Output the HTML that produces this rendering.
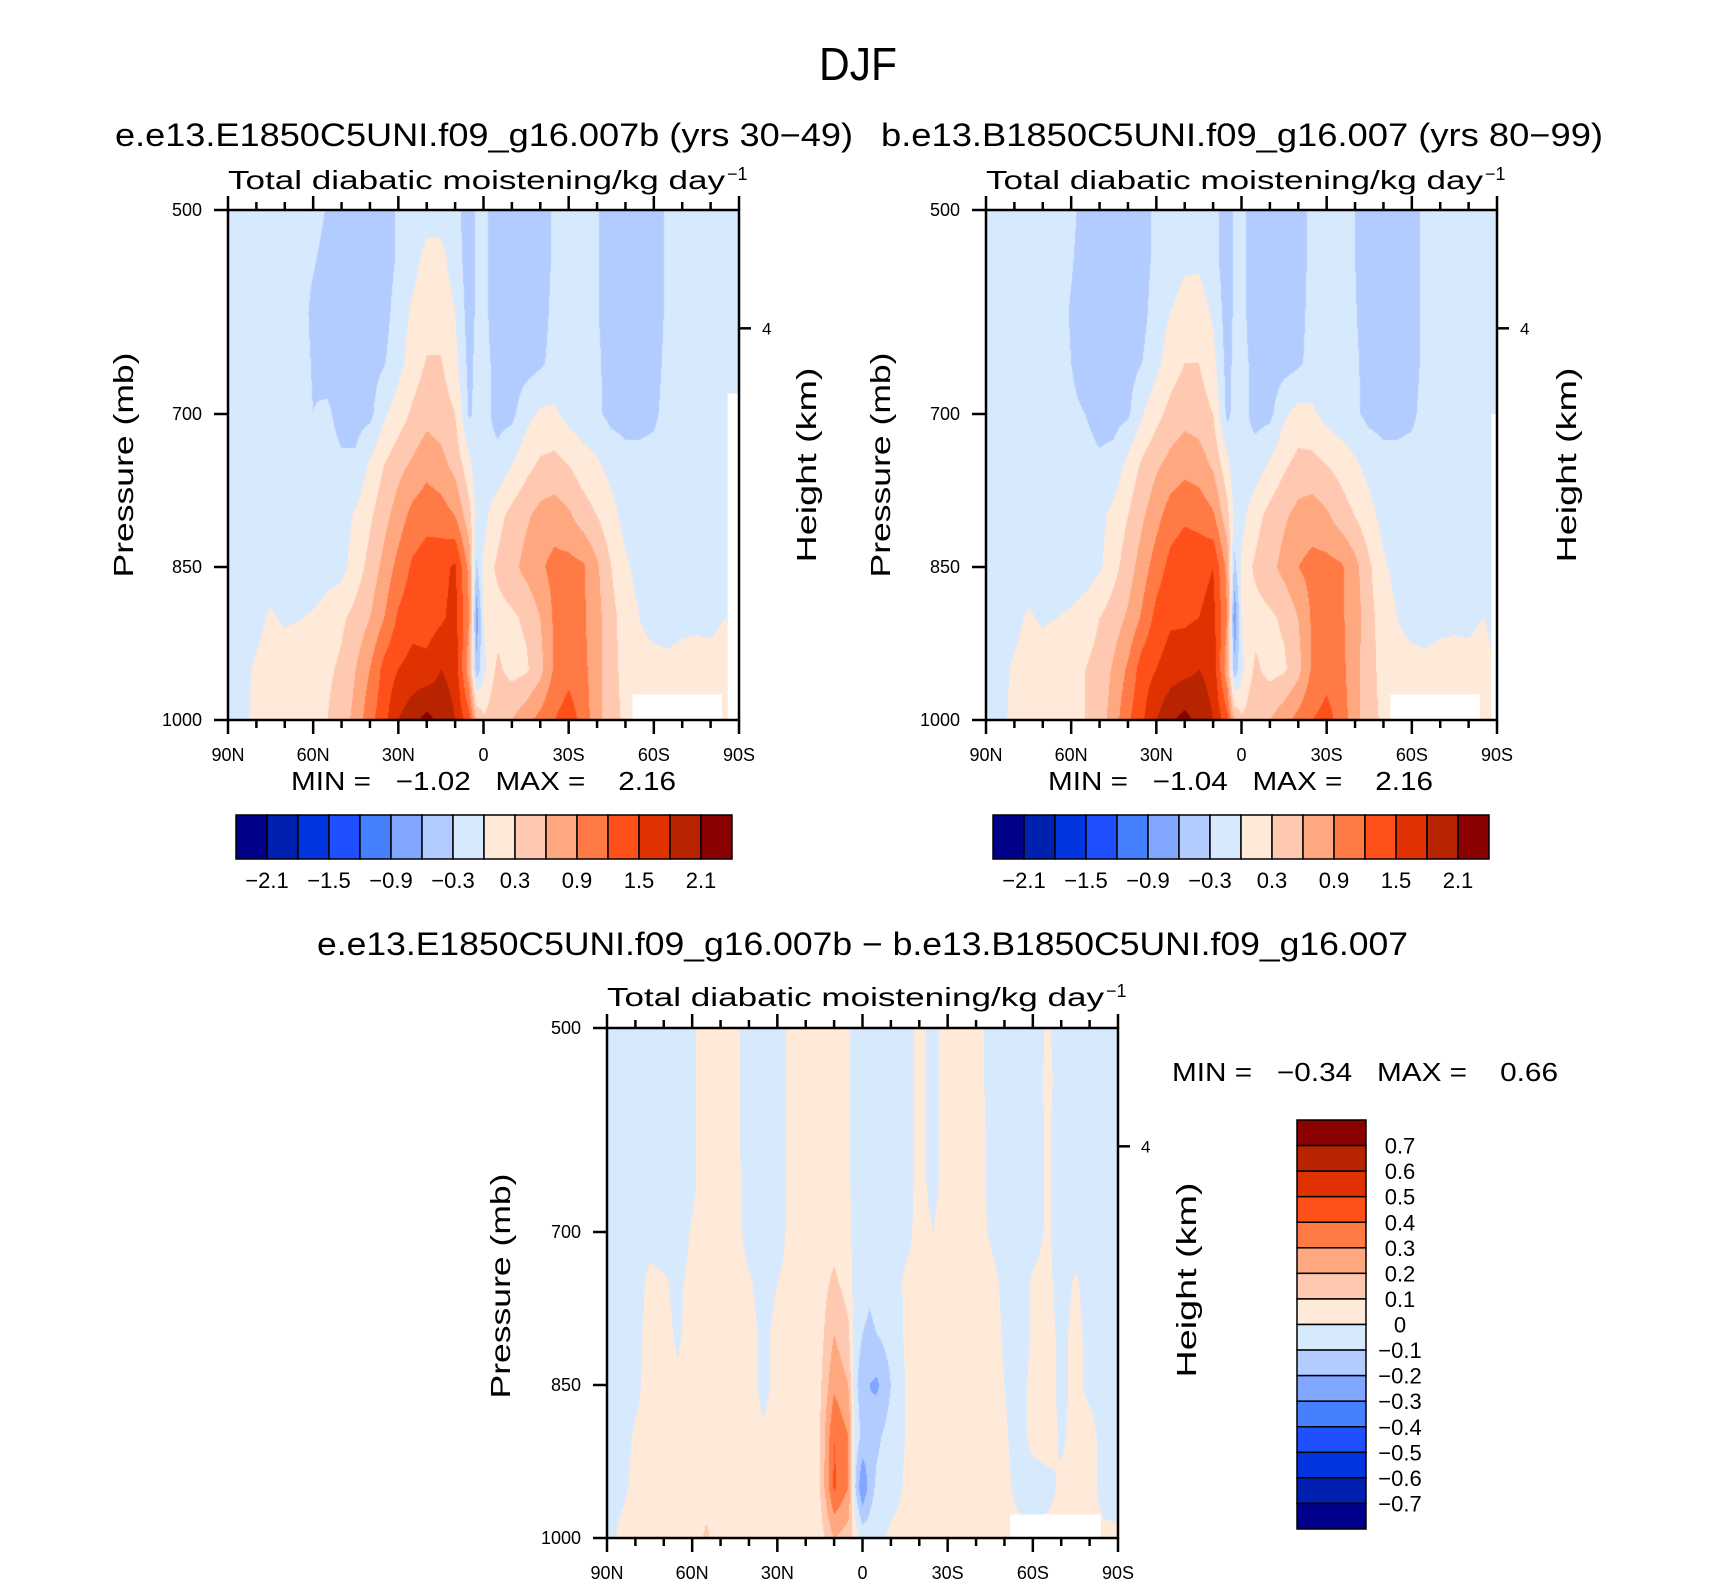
<!DOCTYPE html>
<html><head><meta charset="utf-8"><title>DJF Total diabatic moistening</title>
<style>
html,body{margin:0;padding:0;background:#fff;}
#page{position:relative;width:1710px;height:1581px;overflow:hidden;background:#fff;font-family:"Liberation Sans",sans-serif;}
canvas{position:absolute;}
#overlay{position:absolute;left:0;top:0;}
text{font-family:"Liberation Sans",sans-serif;fill:#000;}
</style></head>
<body>
<div id="page">
<canvas id="cv-tl"></canvas>
<canvas id="cv-tr"></canvas>
<canvas id="cv-bd"></canvas>
<svg id="overlay" width="1710" height="1581" xmlns="http://www.w3.org/2000/svg">
<g id="masks"></g>
<g id="axes"></g>
<text x="858" y="80" font-size="46" text-anchor="middle" textLength="78" lengthAdjust="spacingAndGlyphs">DJF</text>
<text x="115" y="146" font-size="32" textLength="738" lengthAdjust="spacingAndGlyphs">e.e13.E1850C5UNI.f09_g16.007b (yrs 30−49)</text>
<text x="881" y="146" font-size="32" textLength="722" lengthAdjust="spacingAndGlyphs">b.e13.B1850C5UNI.f09_g16.007 (yrs 80−99)</text>
<text x="228" y="189" font-size="26" textLength="497" lengthAdjust="spacingAndGlyphs">Total diabatic moistening/kg day</text>
<text x="727" y="180" font-size="18">−1</text>
<text x="986" y="189" font-size="26" textLength="497" lengthAdjust="spacingAndGlyphs">Total diabatic moistening/kg day</text>
<text x="1485" y="180" font-size="18">−1</text>
<text x="317" y="955" font-size="32" textLength="1091" lengthAdjust="spacingAndGlyphs">e.e13.E1850C5UNI.f09_g16.007b − b.e13.B1850C5UNI.f09_g16.007</text>
<text x="607" y="1006" font-size="26" textLength="497" lengthAdjust="spacingAndGlyphs">Total diabatic moistening/kg day</text>
<text x="1106" y="997" font-size="18">−1</text>
<text x="291" y="790" font-size="26" textLength="385" lengthAdjust="spacingAndGlyphs" xml:space="preserve">MIN =   −1.02   MAX =    2.16</text>
<text x="1048" y="790" font-size="26" textLength="385" lengthAdjust="spacingAndGlyphs" xml:space="preserve">MIN =   −1.04   MAX =    2.16</text>
<text x="1172" y="1081" font-size="26" textLength="386" lengthAdjust="spacingAndGlyphs" xml:space="preserve">MIN =   −0.34   MAX =    0.66</text>
<text transform="translate(133,465) rotate(-90)" font-size="28" text-anchor="middle" textLength="225" lengthAdjust="spacingAndGlyphs">Pressure (mb)</text>
<text transform="translate(816,465) rotate(-90)" font-size="28" text-anchor="middle" textLength="195" lengthAdjust="spacingAndGlyphs">Height (km)</text>
<text transform="translate(890,465) rotate(-90)" font-size="28" text-anchor="middle" textLength="225" lengthAdjust="spacingAndGlyphs">Pressure (mb)</text>
<text transform="translate(1576,465) rotate(-90)" font-size="28" text-anchor="middle" textLength="195" lengthAdjust="spacingAndGlyphs">Height (km)</text>
<text transform="translate(510,1286) rotate(-90)" font-size="28" text-anchor="middle" textLength="225" lengthAdjust="spacingAndGlyphs">Pressure (mb)</text>
<text transform="translate(1196,1280) rotate(-90)" font-size="28" text-anchor="middle" textLength="195" lengthAdjust="spacingAndGlyphs">Height (km)</text>
<g id="colorbars"></g>
</svg>
</div>
<script>
// ---- data ----
const lats = [90,85,80,75,70,65,60,55,50,45,40,35,30,25,20,15,10,5,2.5,0,-2.5,-5,-10,-15,-20,-25,-30,-35,-40,-45,-50,-55,-60,-65,-70,-75,-80,-85,-90];
const levels = [500,550,600,650,700,750,800,850,900,950,1000];
const colors16 = ['#00008b','#0021b0','#0035e0','#1e50ff','#4580ff','#80a6ff','#b3ccff','#d7e9fc','#ffe9d8','#ffc9b1','#ffa880','#ff7a45','#ff5019','#e03200','#b82300','#8b0000'];
const bndsAbs = [-2.1,-1.8,-1.5,-1.2,-0.9,-0.6,-0.3,0,0.3,0.6,0.9,1.2,1.5,1.8,2.1];
const bndsDiff = [-0.7,-0.6,-0.5,-0.4,-0.3,-0.2,-0.1,0,0.1,0.2,0.3,0.4,0.5,0.6,0.7];
const absTickLabels = ['−2.1','−1.5','−0.9','−0.3','0.3','0.9','1.5','2.1'];
const diffTickLabels = ['−0.7','−0.6','−0.5','−0.4','−0.3','−0.2','−0.1','0','0.1','0.2','0.3','0.4','0.5','0.6','0.7'];
const latTicks = [90,60,30,0,-30,-60,-90];
const latTickLabels = ['90N','60N','30N','0','30S','60S','90S'];
const presTicks = [500,700,850,1000];
const heightTicks = [4];
const heightTickPres = [616];

const tlField = [
[-0.2,-0.2,-0.2,-0.2,-0.2,-0.2,-0.2,-0.32,-0.45,-0.45,-0.45,-0.45,-0.25,-0.2,-0.12,-0.12,-0.2,-0.45,-0.25,-0.2,-0.35,-0.45,-0.45,-0.45,-0.45,-0.25,-0.2,-0.2,-0.28,-0.45,-0.45,-0.45,-0.45,-0.25,-0.2,-0.2,-0.2,-0.2,-0.2],
[-0.2,-0.2,-0.2,-0.2,-0.2,-0.2,-0.28,-0.38,-0.45,-0.45,-0.45,-0.45,-0.25,-0.1,0.1,0.1,-0.15,-0.45,-0.25,-0.2,-0.35,-0.45,-0.45,-0.45,-0.45,-0.25,-0.2,-0.2,-0.28,-0.45,-0.45,-0.45,-0.45,-0.25,-0.2,-0.2,-0.2,-0.2,-0.2],
[-0.2,-0.2,-0.2,-0.2,-0.2,-0.2,-0.35,-0.38,-0.45,-0.45,-0.45,-0.42,-0.15,0.05,0.2,0.2,0.0,-0.45,-0.25,-0.2,-0.35,-0.45,-0.45,-0.45,-0.42,-0.22,-0.2,-0.2,-0.28,-0.45,-0.45,-0.45,-0.42,-0.25,-0.2,-0.2,-0.2,-0.2,-0.2],
[-0.2,-0.2,-0.2,-0.2,-0.2,-0.2,-0.32,-0.42,-0.45,-0.45,-0.42,-0.32,-0.1,0.15,0.32,0.32,0.1,-0.4,-0.22,-0.2,-0.3,-0.45,-0.45,-0.42,-0.35,-0.2,-0.2,-0.2,-0.25,-0.42,-0.42,-0.42,-0.4,-0.22,-0.2,-0.2,-0.2,-0.2,-0.2],
[-0.2,-0.2,-0.2,-0.2,-0.2,-0.2,-0.3,-0.25,-0.4,-0.4,-0.38,-0.05,0.15,0.35,0.5,0.45,0.3,-0.35,-0.2,-0.2,-0.3,-0.4,-0.38,-0.1,0.05,0.05,-0.1,-0.2,-0.25,-0.38,-0.4,-0.4,-0.35,-0.2,-0.2,-0.2,-0.2,-0.2,-0.2],
[-0.2,-0.2,-0.2,-0.2,-0.2,-0.2,-0.25,-0.2,-0.25,-0.25,0.05,0.3,0.5,0.65,0.8,0.7,0.5,0.1,-0.22,-0.15,-0.2,-0.2,0.0,0.2,0.35,0.4,0.3,0.15,0.05,-0.1,-0.2,-0.2,-0.2,-0.2,-0.2,-0.2,-0.2,-0.2,-0.2],
[-0.2,-0.2,-0.2,-0.2,-0.2,-0.2,-0.25,-0.2,-0.15,0.05,0.25,0.5,0.75,1.0,1.1,1.05,0.9,0.4,-0.05,-0.1,0.05,0.2,0.4,0.55,0.7,0.75,0.65,0.45,0.3,0.1,-0.1,-0.2,-0.2,-0.2,-0.2,-0.2,-0.2,-0.2,-0.2],
[-0.2,-0.2,-0.2,-0.2,-0.2,-0.2,-0.25,-0.15,-0.1,0.15,0.4,0.7,1.0,1.25,1.35,1.4,1.55,0.8,-0.35,0.05,0.25,0.35,0.5,0.7,0.85,1.0,1.0,0.95,0.65,0.3,0.05,-0.1,-0.2,-0.2,-0.15,-0.2,-0.2,-0.15,-0.2],
[-0.2,-0.15,-0.1,0.05,-0.05,-0.02,0.05,0.15,0.25,0.4,0.6,0.9,1.25,1.4,1.35,1.45,1.6,0.9,-0.8,0.0,0.2,0.2,0.25,0.35,0.6,0.95,1.0,0.95,0.7,0.4,0.15,0.0,-0.1,-0.15,-0.1,-0.05,-0.1,0.0,-0.1],
[-0.2,-0.1,0.05,0.15,0.2,0.3,0.3,0.25,0.35,0.6,0.9,1.3,1.5,1.6,1.6,1.8,1.7,0.7,-0.5,-0.1,0.2,0.35,0.2,0.25,0.5,0.95,1.1,1.0,0.7,0.4,0.2,0.1,0.1,0.1,0.15,0.1,0.15,0.2,-0.1],
[-0.2,-0.1,0.1,0.15,0.2,0.3,0.25,0.3,0.45,0.7,1.1,1.4,1.8,2.0,2.2,2.0,1.8,1.3,0.6,0.35,0.4,0.5,0.6,0.8,1.0,1.2,1.35,1.1,0.7,0.4,0.25,0.1,0.1,0.1,0.1,0.1,0.1,0.1,0.1]
];
const trField = [
[-0.2,-0.2,-0.2,-0.2,-0.2,-0.2,-0.25,-0.38,-0.45,-0.45,-0.45,-0.42,-0.22,-0.2,-0.15,-0.15,-0.2,-0.45,-0.25,-0.2,-0.35,-0.45,-0.45,-0.45,-0.42,-0.22,-0.2,-0.2,-0.3,-0.45,-0.45,-0.45,-0.42,-0.22,-0.2,-0.2,-0.2,-0.2,-0.2],
[-0.2,-0.2,-0.2,-0.2,-0.2,-0.2,-0.28,-0.4,-0.45,-0.45,-0.45,-0.42,-0.22,-0.15,-0.05,-0.05,-0.2,-0.45,-0.25,-0.2,-0.35,-0.45,-0.45,-0.45,-0.42,-0.22,-0.2,-0.2,-0.3,-0.45,-0.45,-0.45,-0.42,-0.22,-0.2,-0.2,-0.2,-0.2,-0.2],
[-0.2,-0.2,-0.2,-0.2,-0.2,-0.2,-0.32,-0.42,-0.45,-0.45,-0.45,-0.4,-0.15,0.0,0.12,0.15,-0.05,-0.45,-0.25,-0.2,-0.35,-0.45,-0.45,-0.45,-0.4,-0.2,-0.2,-0.2,-0.28,-0.45,-0.45,-0.45,-0.4,-0.22,-0.2,-0.2,-0.2,-0.2,-0.2],
[-0.2,-0.2,-0.2,-0.2,-0.2,-0.2,-0.3,-0.42,-0.45,-0.45,-0.42,-0.3,-0.08,0.15,0.3,0.3,0.1,-0.42,-0.22,-0.2,-0.3,-0.45,-0.45,-0.42,-0.35,-0.2,-0.2,-0.2,-0.25,-0.42,-0.42,-0.42,-0.4,-0.22,-0.2,-0.2,-0.2,-0.2,-0.2],
[-0.2,-0.2,-0.2,-0.2,-0.2,-0.2,-0.25,-0.3,-0.4,-0.4,-0.35,-0.02,0.2,0.4,0.5,0.45,0.3,-0.38,-0.2,-0.2,-0.3,-0.4,-0.38,-0.05,0.1,0.05,-0.1,-0.2,-0.25,-0.38,-0.4,-0.4,-0.35,-0.2,-0.2,-0.2,-0.2,-0.2,-0.2],
[-0.2,-0.2,-0.2,-0.2,-0.2,-0.2,-0.2,-0.2,-0.25,-0.2,0.1,0.35,0.55,0.7,0.8,0.75,0.55,0.1,-0.22,-0.15,-0.2,-0.15,0.05,0.25,0.4,0.4,0.3,0.2,0.05,-0.1,-0.2,-0.2,-0.2,-0.2,-0.2,-0.2,-0.2,-0.2,-0.2],
[-0.2,-0.2,-0.2,-0.2,-0.2,-0.2,-0.2,-0.2,-0.1,0.1,0.3,0.55,0.8,1.05,1.15,1.1,0.95,0.4,-0.05,-0.1,0.05,0.2,0.4,0.55,0.7,0.75,0.65,0.45,0.3,0.1,-0.1,-0.2,-0.2,-0.2,-0.2,-0.2,-0.2,-0.2,-0.2],
[-0.2,-0.2,-0.2,-0.2,-0.2,-0.2,-0.2,-0.15,-0.05,0.2,0.45,0.75,1.05,1.3,1.4,1.4,1.5,0.8,-0.4,0.05,0.25,0.35,0.5,0.7,0.9,1.0,1.0,0.95,0.7,0.35,0.05,-0.1,-0.2,-0.2,-0.15,-0.2,-0.2,-0.15,-0.2],
[-0.2,-0.15,-0.1,0.05,-0.05,0.0,0.05,0.15,0.3,0.45,0.65,0.95,1.3,1.45,1.45,1.5,1.6,0.9,-0.85,0.0,0.2,0.2,0.25,0.35,0.6,0.95,1.0,0.95,0.75,0.4,0.15,0.0,-0.1,-0.15,-0.1,-0.05,-0.1,0.0,-0.1],
[-0.2,-0.1,0.05,0.15,0.2,0.3,0.3,0.3,0.4,0.65,0.95,1.35,1.5,1.65,1.7,1.8,1.7,0.7,-0.5,-0.1,0.2,0.35,0.2,0.25,0.5,0.95,1.1,1.0,0.7,0.4,0.2,0.1,0.1,0.1,0.15,0.1,0.15,0.2,-0.1],
[-0.2,-0.1,0.1,0.15,0.2,0.3,0.25,0.3,0.45,0.75,1.15,1.45,1.8,2.05,2.2,2.0,1.8,1.3,0.6,0.35,0.4,0.5,0.6,0.8,1.0,1.2,1.3,1.1,0.7,0.4,0.25,0.1,0.1,0.1,0.1,0.1,0.1,0.1,0.1]
];
const bdField = [
[-0.05,-0.05,-0.05,-0.05,-0.05,-0.05,-0.02,0.05,0.05,0.03,-0.05,-0.05,-0.05,0.03,0.05,0.05,0.05,0.02,-0.05,-0.05,-0.05,-0.05,-0.05,-0.03,0.02,-0.02,0.03,0.05,0.04,-0.03,-0.05,-0.05,-0.05,0.01,-0.03,-0.05,-0.05,-0.05,-0.05],
[-0.05,-0.05,-0.05,-0.05,-0.05,-0.05,-0.02,0.05,0.05,0.03,-0.05,-0.05,-0.05,0.03,0.05,0.05,0.05,0.02,-0.05,-0.05,-0.05,-0.05,-0.05,-0.03,0.02,-0.02,0.03,0.05,0.04,-0.03,-0.05,-0.05,-0.05,0.02,-0.03,-0.05,-0.05,-0.05,-0.05],
[-0.05,-0.05,-0.05,-0.05,-0.05,-0.05,-0.02,0.05,0.05,0.03,-0.05,-0.05,-0.05,0.03,0.05,0.05,0.05,0.02,-0.05,-0.05,-0.05,-0.05,-0.05,-0.03,0.02,-0.02,0.03,0.05,0.04,-0.02,-0.05,-0.05,-0.04,0.01,-0.03,-0.05,-0.05,-0.05,-0.05],
[-0.05,-0.05,-0.05,-0.05,-0.05,-0.05,-0.02,0.05,0.05,0.03,-0.04,-0.05,-0.05,0.03,0.05,0.05,0.05,0.02,-0.05,-0.05,-0.05,-0.05,-0.05,-0.03,0.02,-0.02,0.03,0.05,0.04,-0.02,-0.05,-0.05,-0.04,0.01,-0.03,-0.05,-0.05,-0.05,-0.05],
[-0.05,-0.05,-0.05,-0.03,-0.04,-0.05,0.01,0.05,0.05,0.03,-0.03,-0.05,-0.04,0.03,0.05,0.05,0.06,0.03,-0.05,-0.05,-0.06,-0.05,-0.05,-0.02,0.02,0.0,0.04,0.05,0.04,-0.01,-0.05,-0.05,-0.03,0.01,-0.03,-0.04,-0.05,-0.05,-0.05],
[-0.05,-0.05,-0.04,0.02,0.01,-0.02,0.03,0.05,0.05,0.04,0.01,-0.03,0.0,0.03,0.05,0.06,0.12,0.06,-0.05,-0.06,-0.08,-0.06,-0.04,0.01,0.02,0.02,0.04,0.05,0.05,0.03,-0.02,-0.04,0.01,0.02,-0.03,0.01,-0.03,-0.05,-0.05],
[-0.05,-0.04,-0.03,0.03,0.02,-0.01,0.03,0.05,0.05,0.05,0.03,-0.02,0.02,0.04,0.05,0.06,0.2,0.12,-0.06,-0.1,-0.12,-0.1,-0.06,0.01,0.03,0.03,0.05,0.05,0.05,0.04,-0.01,-0.04,0.01,0.03,-0.02,0.02,-0.02,-0.04,-0.05],
[-0.05,-0.04,-0.02,0.03,0.02,0.01,0.04,0.05,0.05,0.04,0.03,-0.02,0.02,0.04,0.05,0.08,0.28,0.2,-0.08,-0.15,-0.2,-0.22,-0.1,0.0,0.03,0.04,0.05,0.05,0.05,0.04,0.0,-0.03,0.02,0.03,-0.02,0.02,-0.02,-0.04,-0.05],
[-0.05,-0.03,0.01,0.03,0.03,0.02,0.04,0.05,0.05,0.04,0.03,0.01,0.03,0.04,0.05,0.1,0.4,0.3,-0.05,-0.12,-0.18,-0.12,-0.06,0.0,0.03,0.04,0.05,0.05,0.05,0.04,0.01,-0.03,0.02,0.03,-0.01,0.02,0.03,-0.03,-0.05],
[-0.04,-0.02,0.02,0.03,0.04,0.03,0.04,0.05,0.04,0.03,0.02,0.03,0.03,0.04,0.05,0.1,0.42,0.3,-0.1,-0.3,-0.15,-0.08,-0.04,0.01,0.03,0.04,0.05,0.05,0.05,0.04,0.02,-0.02,-0.03,-0.02,0.01,0.02,0.03,-0.03,-0.05],
[-0.03,0.02,0.03,0.03,0.04,0.03,0.04,0.12,0.04,0.03,0.03,0.03,0.03,0.04,0.05,0.05,0.2,0.15,0.05,-0.03,-0.05,-0.03,0.02,0.03,0.04,0.04,0.05,0.05,0.05,0.04,0.03,0.02,0.02,0.02,0.02,0.02,0.02,0.02,0.02]
];
// missing-data regions: [latFrom, latTo, presFrom, presTo]
const tlMissing = [[-52.5,-84,975,1000],[-86,-90,680,1000]];
const trMissing = [[-52.5,-84,975,1000],[-88,-90,700,1000]];
const bdMissing = [[-52,-84,977,1000]];

// ---- layout ----
const SVGNS = 'http://www.w3.org/2000/svg';
const panels = [
  {key:'tl', x0:228, y0:210, w:511, h:510, field:tlField, bnds:bndsAbs, missing:tlMissing},
  {key:'tr', x0:986, y0:210, w:511, h:510, field:trField, bnds:bndsAbs, missing:trMissing},
  {key:'bd', x0:607, y0:1028, w:511, h:510, field:bdField, bnds:bndsDiff, missing:bdMissing}
];
function xScale(P, lat){ return P.x0 + (90 - lat) / 180 * P.w; }
function yScale(P, p){ return P.y0 + (p - 500) / 500 * P.h; }
function hexToRgb(h){ return [parseInt(h.substr(1,2),16),parseInt(h.substr(3,2),16),parseInt(h.substr(5,2),16)]; }
const rgb16 = colors16.map(hexToRgb);

function sample(field, lat, p){
  let j = 0;
  while (j < lats.length - 2 && lat < lats[j+1]) j++;
  let i = 0;
  while (i < levels.length - 2 && p > levels[i+1]) i++;
  const tx = (lats[j] - lat) / (lats[j] - lats[j+1]);
  const ty = (p - levels[i]) / (levels[i+1] - levels[i]);
  const a = field[i][j], b = field[i][j+1], c = field[i+1][j], d = field[i+1][j+1];
  return (a*(1-tx) + b*tx)*(1-ty) + (c*(1-tx) + d*tx)*ty;
}
function binOf(v, bnds){ let k = 0; while (k < bnds.length && v >= bnds[k]) k++; return k; }

function mk(tag, attrs, parent){
  const el = document.createElementNS(SVGNS, tag);
  for (const k in attrs) el.setAttribute(k, attrs[k]);
  parent.appendChild(el);
  return el;
}

const axesG = document.getElementById('axes');
const masksG = document.getElementById('masks');
const cbG = document.getElementById('colorbars');

panels.forEach(P => {
  const cv = document.getElementById('cv-' + P.key);
  cv.width = P.w; cv.height = P.h;
  cv.style.left = P.x0 + 'px'; cv.style.top = P.y0 + 'px';
  const ctx = cv.getContext('2d');
  const img = ctx.createImageData(P.w, P.h);
  for (let py = 0; py < P.h; py++){
    const p = 500 + (py + 0.5) / P.h * 500;
    for (let px = 0; px < P.w; px++){
      const lat = 90 - (px + 0.5) / P.w * 180;
      const c = rgb16[binOf(sample(P.field, lat, p), P.bnds)];
      const o = (py * P.w + px) * 4;
      img.data[o] = c[0]; img.data[o+1] = c[1]; img.data[o+2] = c[2]; img.data[o+3] = 255;
    }
  }
  ctx.putImageData(img, 0, 0);

  P.missing.forEach(m => {
    const x1 = xScale(P, m[0]), x2 = xScale(P, m[1]);
    const y1 = yScale(P, m[2]), y2 = yScale(P, m[3]);
    const r = mk('rect', {x:x1, y:y1, width:x2-x1, height:y2-y1, fill:'#fff'}, masksG);
    
    
  });

  const g = mk('g', {stroke:'#000', 'stroke-width':2.5, fill:'none'}, axesG);
  
  
  const frame = mk('rect', {x:P.x0, y:P.y0, width:P.w, height:P.h}, g);
  
  

  for (let lat = 90; lat >= -90; lat -= 10){
    const major = (lat % 30 === 0);
    const x = xScale(P, lat);
    const len = major ? 14 : 8;
    const tb = mk('line', {x1:x, y1:P.y0+P.h, x2:x, y2:P.y0+P.h+len}, g);
    
    
    const tt = mk('line', {x1:x, y1:P.y0, x2:x, y2:P.y0-len}, g);
    
    
  }
  latTicks.forEach((lat, k) => {
    const t = mk('text', {x:xScale(P, lat), y:P.y0+P.h+41, 'font-size':18, 'text-anchor':'middle'}, axesG);
    t.textContent = latTickLabels[k];
    
    
  });
  presTicks.forEach(p => {
    const y = yScale(P, p);
    const tl = mk('line', {x1:P.x0, y1:y, x2:P.x0-14, y2:y}, g);
    
    
    const t = mk('text', {x:P.x0-26, y:y+6, 'font-size':18, 'text-anchor':'end'}, axesG);
    t.textContent = String(p);
    
    
  });
  heightTicks.forEach((hk, k) => {
    const y = yScale(P, heightTickPres[k]);
    const tr = mk('line', {x1:P.x0+P.w, y1:y, x2:P.x0+P.w+12, y2:y}, g);
    
    
    const t = mk('text', {x:P.x0+P.w+23, y:y+6, 'font-size':17}, axesG);
    t.textContent = String(hk);
    
    
  });
});

// horizontal colorbars (top panels)
[[236, 'left'], [993, 'right']].forEach(cfg => {
  const x0 = cfg[0], y0 = 815, W = 496, H = 44, bw = W / 16;
  for (let k = 0; k < 16; k++){
    const r = mk('rect', {x:x0 + k*bw, y:y0, width:bw, height:H, fill:colors16[k], stroke:'#000', 'stroke-width':1.5}, cbG);
    
    
  }
  absTickLabels.forEach((lab, k) => {
    const t = mk('text', {x:x0 + (1 + 2*k) * bw, y:y0 + H + 29, 'font-size':22, 'text-anchor':'middle'}, cbG);
    t.textContent = lab;
    
    
  });
});
// vertical colorbar (difference)
(function(){
  const x0 = 1297, y0 = 1120, W = 69, H = 409, bh = H / 16;
  for (let k = 0; k < 16; k++){
    const r = mk('rect', {x:x0, y:y0 + k*bh, width:W, height:bh, fill:colors16[15-k], stroke:'#000', 'stroke-width':1.5}, cbG);
    
    
  }
  for (let k = 0; k < diffTickLabels.length; k++){
    const t = mk('text', {x:1400, y:y0 + (k+1)*bh + 8, 'font-size':22, 'text-anchor':'middle'}, cbG);
    t.textContent = diffTickLabels[diffTickLabels.length - 1 - k];
    
    
  }
})();
</script>
</body></html>
